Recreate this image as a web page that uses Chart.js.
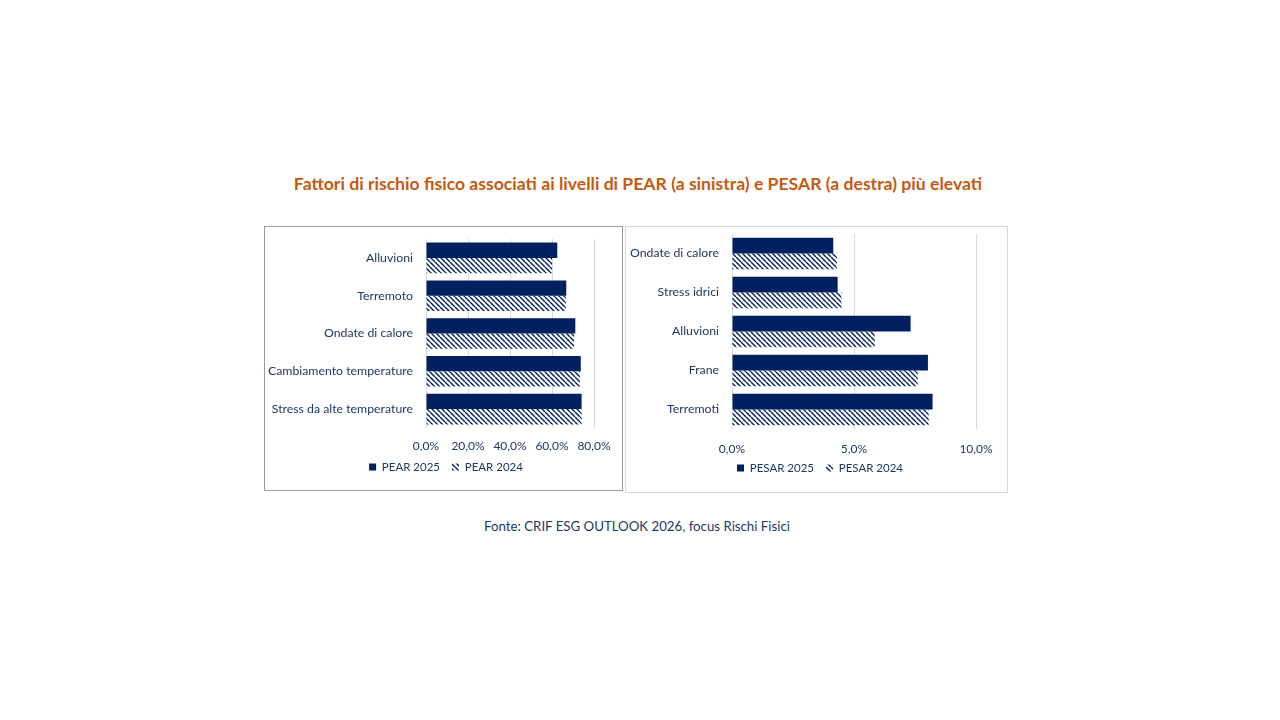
<!DOCTYPE html>
<html>
<head>
<meta charset="utf-8">
<script src="https://cdn.jsdelivr.net/npm/chart.js@4/dist/chart.umd.min.js"></script>
<style>
  body { margin: 0; width: 1280px; height: 720px; background: #fff; position: relative; font-family: Lato, sans-serif; }
  #titolo { position: absolute; left: -2px; width: 1280px; top: 173px; text-align: center; color: #C55A11; font-weight: bold; font-size: 17.6px; }
  #fonte { position: absolute; left: -3px; width: 1280px; top: 518px; text-align: center; color: #1F3864; font-size: 13.25px; }
  .box { position: absolute; top: 226px; box-sizing: border-box; }
  #boxSx { left: 264px; width: 359px; height: 265px; border: 1px solid #9a9a9a; }
  #boxDx { left: 625px; width: 383px; height: 267px; border: 1px solid #d9d9d9; }
  canvas { display: block; }
</style>
</head>
<body>
<div id="titolo">Fattori di rischio fisico associati ai livelli di PEAR (a sinistra) e PESAR (a destra) più elevati</div>
<div class="box" id="boxSx"><canvas id="graficaPear"></canvas></div>
<div class="box" id="boxDx"><canvas id="graficaPesar"></canvas></div>
<div id="fonte">Fonte: CRIF ESG OUTLOOK 2026, focus Rischi Fisici</div>

<script>
// dati (valori in %)
const categoriePear = ['Alluvioni', 'Terremoto', 'Ondate di calore', 'Cambiamento temperature', 'Stress da alte temperature'];
const pear2025 = [62.5, 66.8, 71.1, 73.7, 74.1];
const pear2024 = [60.0, 66.6, 70.5, 73.3, 74.1];
const tickPear = [0, 20, 40, 60, 80];

const categoriePesar = ['Ondate di calore', 'Stress idrici', 'Alluvioni', 'Frane', 'Terremoti'];
const pesar2025 = [4.15, 4.33, 7.32, 8.03, 8.22];
const pesar2024 = [4.30, 4.49, 5.85, 7.61, 8.06];
const tickPesar = [0, 5, 10];

const blu = '#002060';
const testo = '#1F3864';

// tratteggio diagonale per la serie 2024
function tratteggio() {
  const s = 5;
  const c = document.createElement('canvas');
  c.width = s; c.height = s;
  const g = c.getContext('2d');
  g.fillStyle = '#fff';
  g.fillRect(0, 0, s, s);
  g.strokeStyle = blu;
  g.lineWidth = 1.4;
  for (let i = -1; i <= 1; i++) {
    g.beginPath();
    g.moveTo(i * s, 0);
    g.lineTo(i * s + s, s);
    g.stroke();
  }
  return g.createPattern(c, 'repeat');
}

function percento(v) {
  return v.toFixed(1).replace('.', ',') + '%';
}

// sposta la legenda dopo il layout (come in Excel sta un po' più a destra e più in alto)
const spostaLegenda = {
  id: 'spostaLegenda',
  afterLayout(chart, args, opts) {
    const l = chart.legend;
    l.left += opts.dx; l.right += opts.dx;
    l.top += opts.dy; l.bottom += opts.dy;
  }
};

// cfg: larghezza asse y, padding, padding etichette x, altezza asse x, spostamento legenda
function creaGrafico(id, w, h, categorie, d2025, d2024, nomi, ticks, cfg) {
  const cv = document.getElementById(id);
  cv.width = w; cv.height = h;
  cv.style.width = w + 'px'; cv.style.height = h + 'px';
  const motivo = tratteggio();
  return new Chart(cv.getContext('2d'), {
    type: 'bar',
    data: {
      labels: categorie,
      datasets: [
        { label: nomi[0], data: d2025, backgroundColor: blu, categoryPercentage: 0.81, barPercentage: 1 },
        { label: nomi[1], data: d2024, backgroundColor: motivo, categoryPercentage: 0.81, barPercentage: 1 }
      ]
    },
    plugins: [spostaLegenda],
    options: {
      indexAxis: 'y',
      responsive: false,
      animation: false,
      layout: { padding: cfg.padding },
      plugins: {
        tooltip: { enabled: false },
        spostaLegenda: { dx: cfg.dx, dy: cfg.dy },
        legend: {
          position: 'bottom',
          labels: {
            color: testo,
            font: { family: 'Lato', size: 11.5 },
            boxWidth: 7,
            boxHeight: 7,
            padding: 12
          }
        }
      },
      scales: {
        x: {
          min: ticks[0],
          max: ticks[ticks.length - 1],
          afterBuildTicks: ax => { ax.ticks = ticks.map(v => ({ value: v })); },
          grid: { color: '#d9d9d9', drawTicks: false },
          border: { display: false },
          ticks: { color: testo, font: { family: 'Lato', size: 12 }, padding: cfg.tickPad, maxRotation: 0, callback: v => percento(v) },
          afterFit: ax => { ax.height = cfg.assex; }
        },
        y: {
          grid: { display: false, drawTicks: false },
          border: { display: false },
          ticks: { color: testo, font: { family: 'Lato', size: 12.3 }, padding: 13 },
          afterFit: ax => { ax.width = cfg.assey; ax.paddingTop = 0; ax.paddingBottom = 0; }
        }
      }
    }
  });
}

creaGrafico('graficaPear', 357, 263, categoriePear, pear2025, pear2024, ['PEAR 2025', 'PEAR 2024'], tickPear,
  { assey: 158, padding: { top: 12, right: 28, left: 3, bottom: 2.5 }, tickPad: 11, assex: 26, dx: 15, dy: -4.75 });
creaGrafico('graficaPesar', 381, 265, categoriePesar, pesar2025, pesar2024, ['PESAR 2025', 'PESAR 2024'], tickPesar,
  { assey: 104, padding: { top: 7, right: 31, left: 2, bottom: 1.5 }, tickPad: 13, assex: 28, dx: 18, dy: -6.75 });
</script>
</body>
</html>
